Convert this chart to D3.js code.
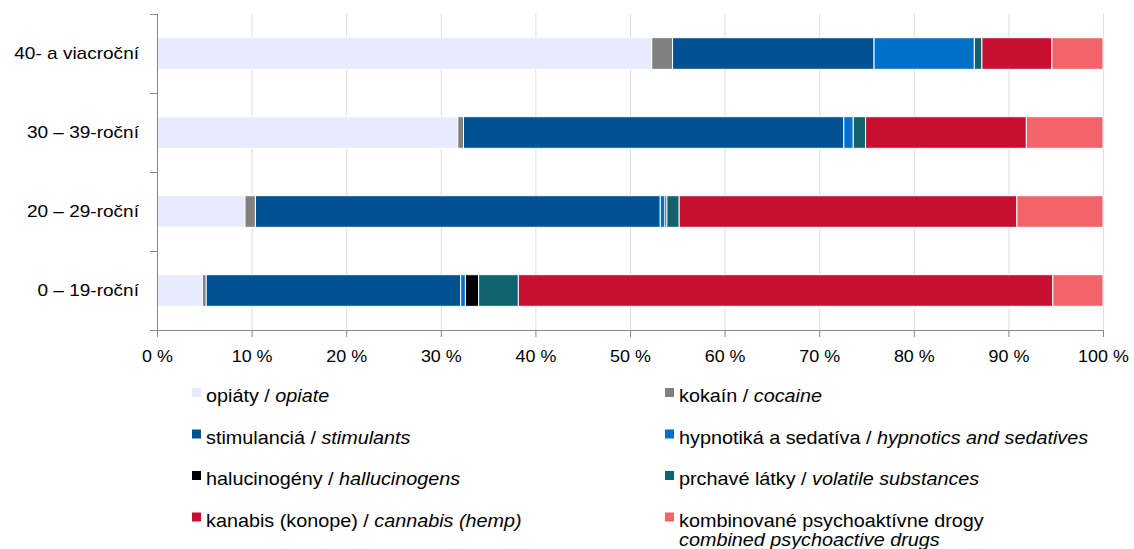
<!DOCTYPE html>
<html>
<head>
<meta charset="utf-8">
<script src="https://cdn.jsdelivr.net/npm/d3@7"></script>
<style>
  body { margin: 0; background: #fff; }
  svg { font-family: "Liberation Sans", Arial, sans-serif; }
</style>
</head>
<body>
<svg id="chart" width="1134" height="549"></svg>
<script>
// vekové skupiny (zhora nadol)
const groups = ["40- a viacroční", "30 – 39-roční", "20 – 29-roční", "0 – 19-roční"];

// podiely drog v %, poradie podľa groups
const opiate      = [52.3, 31.8,  9.3,  4.8];
const cocaine     = [ 2.2,  0.6,  1.1,  0.4];
const stimulants  = [21.3, 40.2, 42.8, 26.9];
const hypnotics   = [10.6,  1.0,  0.5,  0.5];
const halluc      = [ 0.0,  0.0,  0.2,  1.4];
const volatile    = [ 0.8,  1.3,  1.3,  4.2];
const cannabis    = [ 7.4, 17.0, 35.7, 56.5];
const combined    = [ 5.4,  8.1,  9.1,  5.3];

const xTicks = [0, 10, 20, 30, 40, 50, 60, 70, 80, 90, 100];

const series = [
  { key: "opiate", sk: "opiáty", en: "opiate", values: opiate, color: "#e6ecfe" },
  { key: "cocaine", sk: "kokaín", en: "cocaine", values: cocaine, color: "#808080" },
  { key: "stimulants", sk: "stimulanciá", en: "stimulants", values: stimulants, color: "#005292" },
  { key: "hypnotics", sk: "hypnotiká a sedatíva", en: "hypnotics and sedatives", values: hypnotics, color: "#0070c9" },
  { key: "halluc", sk: "halucinogény", en: "hallucinogens", values: halluc, color: "#000000" },
  { key: "volatile", sk: "prchavé látky", en: "volatile substances", values: volatile, color: "#10626e" },
  { key: "cannabis", sk: "kanabis (konope)", en: "cannabis (hemp)", values: cannabis, color: "#c60f31" },
  { key: "combined", sk: "kombinované psychoaktívne drogy", en: "combined psychoactive drugs", values: combined, color: "#f5636a" }
];

const svg = d3.select("#chart");
const mLeft = 157, mRight = 1103, mTop = 14, mBottom = 330;
const stretch = 1.12; // text v origináli je trochu roztiahnutý do šírky

// tabuľka pre d3.stack
const table = groups.map((g, i) => {
  const row = { group: g };
  series.forEach(s => row[s.key] = s.values[i]);
  return row;
});

const stack = d3.stack().keys(series.map(s => s.key));
const stacked = stack(table);

const x = d3.scaleLinear().domain([0, 100]).range([mLeft, mRight]);
const y = d3.scaleBand().domain(groups).range([mTop, mBottom]).paddingInner(0.6).paddingOuter(0.3);

// mriežka
svg.append("g")
  .selectAll("line")
  .data(xTicks.slice(1))
  .enter().append("line")
  .attr("x1", d => x(d) + 0.5).attr("x2", d => x(d) + 0.5)
  .attr("y1", mTop).attr("y2", mBottom)
  .attr("stroke", "#dedede")
  .attr("stroke-width", 1);

// pruhy
svg.append("g")
  .selectAll("g")
  .data(stacked)
  .enter().append("g")
  .attr("fill", (d, i) => series[i].color)
  .selectAll("rect")
  .data(d => d.filter(p => p[1] - p[0] > 0))
  .enter().append("rect")
  .attr("x", d => x(d[0]))
  .attr("y", d => y(d.data.group))
  .attr("width", d => x(d[1]) - x(d[0]))
  .attr("height", y.bandwidth())
  .attr("stroke", "#fff")
  .attr("stroke-width", 1);

// os x
const xAxis = d3.axisBottom(x)
  .tickValues(xTicks)
  .tickSize(7)
  .tickFormat(d => d + " %");
const gx = svg.append("g")
  .attr("transform", `translate(0,${mBottom})`)
  .call(xAxis);
gx.select(".domain").attr("stroke", "#888").attr("d", `M${mLeft + 0.5},0.5H${mRight + 0.5}`);
gx.selectAll(".tick line").attr("stroke", "#888");
gx.selectAll(".tick text")
  .attr("y", 0)
  .attr("dy", null)
  .attr("transform", `translate(0,32) scale(${stretch},1)`)
  .attr("fill", "#000")
  .style("font-size", "16px")
  .style("font-family", "Liberation Sans, Arial, sans-serif");

// os y
const yStep = (mBottom - mTop) / groups.length;
const gy = svg.append("g");
gy.append("line")
  .attr("x1", mLeft + 0.5).attr("x2", mLeft + 0.5)
  .attr("y1", mTop).attr("y2", mBottom)
  .attr("stroke", "#888");
gy.selectAll("line.tk")
  .data(d3.range(groups.length + 1))
  .enter().append("line")
  .attr("class", "tk")
  .attr("x1", mLeft - 7).attr("x2", mLeft)
  .attr("y1", d => mTop + d * yStep + 0.5).attr("y2", d => mTop + d * yStep + 0.5)
  .attr("stroke", "#888");
gy.selectAll("text")
  .data(groups)
  .enter().append("text")
  .attr("transform", d => `translate(139,${y(d) + y.bandwidth() / 2}) scale(${stretch},1)`)
  .attr("dy", "0.35em")
  .attr("text-anchor", "end")
  .style("font-size", "17px")
  .text(d => d);

// legenda
const legX = [192, 665];
const legY = [388, 429.5, 471, 512.5];
const leg = svg.append("g")
  .selectAll("g")
  .data(series)
  .enter().append("g")
  .attr("transform", (d, i) => `translate(${legX[i % 2]},${legY[Math.floor(i / 2)]})`);
leg.append("rect")
  .attr("width", 9).attr("height", 9)
  .attr("fill", d => d.color);
const lt = leg.append("text")
  .attr("transform", "translate(14,14) scale(1.1,1)")
  .style("font-size", "18px");
lt.each(function(d) {
  const t = d3.select(this);
  if (d.key === "combined") {
    t.append("tspan").text(d.sk);
    t.append("tspan").attr("x", 0).attr("dy", 20).style("font-style", "italic").text(d.en);
  } else {
    t.append("tspan").text(d.sk + " / ");
    t.append("tspan").style("font-style", "italic").text(d.en);
  }
});
</script>
</body>
</html>
